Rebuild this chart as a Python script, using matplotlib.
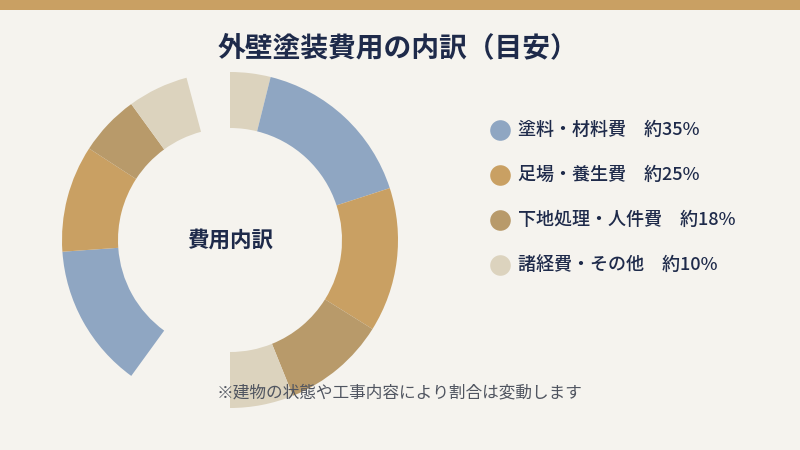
import matplotlib.pyplot as plt
from matplotlib.patches import Rectangle

plt.rcParams['font.family'] = ['Noto Sans CJK JP', 'DejaVu Sans']

# legend data
categories = ['塗料・材料費', '足場・養生費', '下地処理・人件費', '諸経費・その他']
shares = [35, 25, 18, 10]
cat_colors = ['#8FA6C2', '#C9A063', '#B89A6A', '#DCD3BE']

# ring as drawn in the reference (angles in degrees, clockwise from top)
ring_spans = [14, 58, 50, 36, 22, 36, 50, 37, 21, 21, 15]
ring_cats = [3, 0, 1, 2, 3, None, 0, 1, 2, 3, None]

bg = '#F5F3EE'
navy = '#1E2A4A'

fig = plt.figure(figsize=(8, 4.5), dpi=100, facecolor=bg)

# donut
ax = fig.add_axes([(230 - 168) / 800, (210 - 168) / 450, 336 / 800, 336 / 450])
ax.set_facecolor('none')
colors = [cat_colors[c] if c is not None else 'none' for c in ring_cats]
ax.pie(ring_spans, colors=colors, startangle=90, counterclock=False,
       radius=1, wedgeprops=dict(width=(168 - 112) / 168, linewidth=0))
ax.set_aspect('equal')
ax.set_xlim(-1, 1)
ax.set_ylim(-1, 1)
ax.axis('off')

# overlay in pixel coords
ov = fig.add_axes([0, 0, 1, 1])
ov.set_xlim(0, 800)
ov.set_ylim(450, 0)
ov.axis('off')
ov.set_facecolor('none')

ov.add_patch(Rectangle((0, 0), 800, 10, color='#C9A063', lw=0))
ov.text(398, 48, '外壁塗装費用の内訳（目安）', ha='center', va='center',
        fontsize=20, fontweight='bold', color=navy)
ov.text(230, 240, '費用内訳', ha='center', va='center',
        fontsize=15.5, fontweight='bold', color=navy)

legend_y = [130, 175, 220, 265]
for cat, s, col, y in zip(categories, shares, cat_colors, legend_y):
    ov.scatter([500], [y], s=220, color=col, lw=0)
    ov.text(518, y, f'{cat}\u3000約{s}%', ha='left', va='center',
            fontsize=13, fontweight='medium', color=navy)

ov.text(400, 393, '※建物の状態や工事内容により割合は変動します', ha='center',
        va='center', fontsize=12, color='#505560')

fig.savefig('out.png', dpi=100, facecolor=bg)
